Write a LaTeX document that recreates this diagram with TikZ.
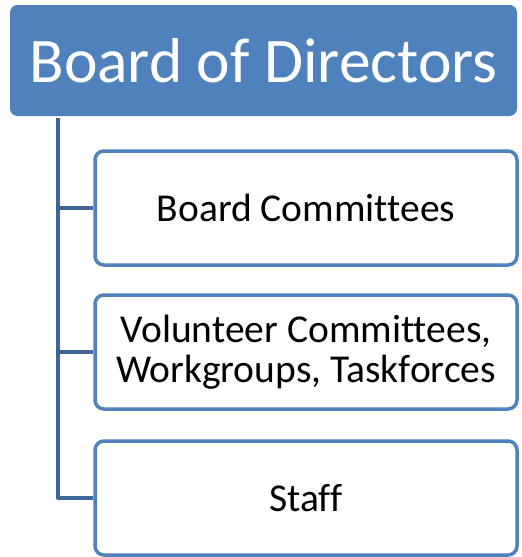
\documentclass[tikz,border=0pt]{standalone}
\usepackage{fontspec}
\setmainfont{Carlito}[Ligatures=NoCommon]
\usetikzlibrary{positioning}
\definecolor{boardblue}{rgb}{0.31,0.506,0.741}
\definecolor{linkblue}{rgb}{0.247,0.408,0.604}

\begin{document}
\begin{tikzpicture}[x=1pt,y=1pt,line cap=round,line join=round,
	board/.style={fill=boardblue,draw=boardblue,line width=1pt,rounded corners=7pt,text=white,
		minimum width=506pt,minimum height=110pt,inner sep=0pt,font=\fontsize{63.5}{70}\selectfont},
	unit/.style={fill=white,draw=boardblue,line width=3.5pt,rounded corners=9pt,align=center,
		minimum width=422pt,minimum height=114pt,inner sep=0pt,font=\fontsize{39.5}{40}\selectfont},
	link/.style={draw=linkblue,line width=4pt,line cap=butt}]
	\useasboundingbox (0,0) rectangle (522,-557);
	\node[board] (bod) at (263.5,-60.5) {Board of Directors};
	\node[unit] (bc) at (306,-208) {Board Committees};
	\node[unit] (vc) at (306,-352) {Volunteer Committees,\\Workgroups, Taskforces};
	\node[unit] (st) at (306,-498) {Staff};
	\coordinate (trunk) at ([xshift=48pt,yshift=-2pt]bod.south west);
	% connectors
	\draw[link] (trunk) |- (bc.west);
	\draw[link] (trunk) |- (vc.west);
	\draw[link] (trunk) |- (st.west);
\end{tikzpicture}
\end{document}
